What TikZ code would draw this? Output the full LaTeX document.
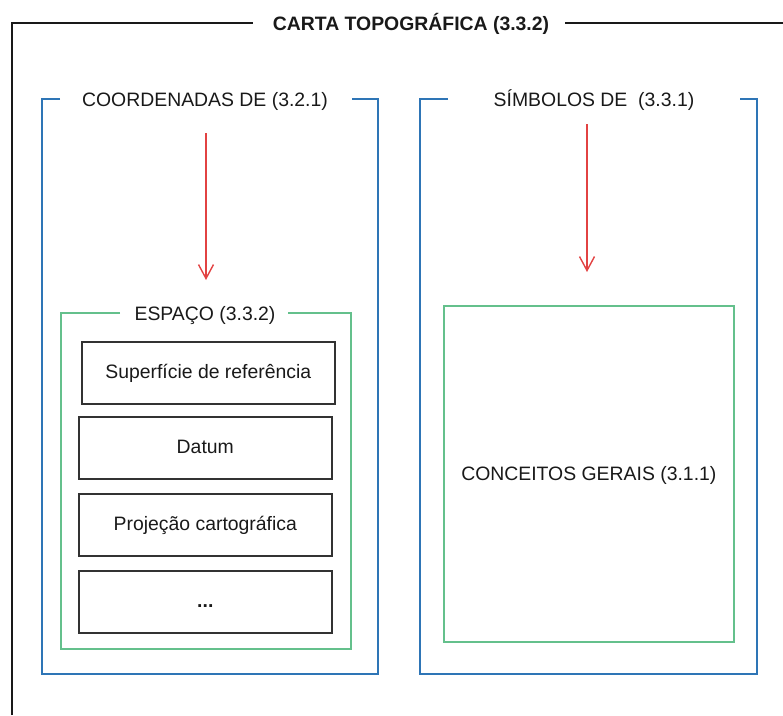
\documentclass[tikz,border=0pt]{standalone}
\usepackage{fontspec}
\setmainfont{Liberation Sans}
\usetikzlibrary{arrows.meta}

\definecolor{frameblue}{RGB}{46,117,182}
\definecolor{framegreen}{RGB}{100,192,140}
\definecolor{arrowred}{RGB}{226,66,66}
\definecolor{boxgray}{RGB}{50,50,50}
\definecolor{txt}{RGB}{25,25,25}

\begin{document}
\begin{tikzpicture}[x=1pt,y=-1pt,
  capslbl/.style={font=\fontsize{19.4}{23}\selectfont, text=txt, inner sep=0pt,
                  text height=14pt, text depth=0pt},
  itembox/.style={draw=boxgray, line width=1.6pt, inner sep=0pt, anchor=north west,
                  minimum width=253pt, minimum height=62pt,
                  font=\fontsize{19.4}{23}\selectfont, text=txt,
                  text height=14pt, text depth=2pt},
  outerframe/.style={draw=black!90, line width=2.2pt},
  blueframe/.style={draw=frameblue, line width=2.6pt},
  greenframe/.style={draw=framegreen, line width=1.7pt},
  flow/.style={draw=arrowred, line width=1.4pt,
               -{Straight Barb[length=14pt,width=15pt,line width=1.4pt]}}
]
\useasboundingbox (0,0) rectangle (783,715);

% outer frame, running off the right and bottom edges
\node[capslbl, font=\fontsize{19.4}{23}\selectfont\bfseries] (carta) at (411,23) {CARTA TOPOGRÁFICA (3.3.2)};
\draw[outerframe] (12,715) -- (12,23) -- (253,23);
\draw[outerframe] (565,23) -- (783,23);

% left blue frame
\node[capslbl] (coord) at (205,99) {COORDENADAS DE (3.2.1)};
\draw[blueframe] (60,99) -- (42,99) -- (42,674) -- (378,674) -- (378,99) -- (352,99);

% right blue frame
\node[capslbl] (simb) at (594,99) {SÍMBOLOS DE\ \ (3.3.1)};
\draw[blueframe] (448,99) -- (420,99) -- (420,674) -- (757,674) -- (757,99) -- (740,99);

% green frame holding the list of items
\node[capslbl] (espaco) at (205,313) {ESPAÇO (3.3.2)};
\draw[greenframe] (120,313) -- (61,313) -- (61,649) -- (351,649) -- (351,313) -- (288,313);

% items
\node[itembox] (sup) at (81,341) {Superfície de referência};
\node[itembox] (datum) at (78,416) {Datum};
\node[itembox] (proj) at (78,493) {Projeção cartográfica};
\node[itembox] (etc) at (78,570) {\textbf{...}};

% green box with general concepts
\node[greenframe, anchor=north west, inner sep=0pt,
      minimum width=290pt, minimum height=336pt] (geral) at (443,305) {};
\node[capslbl] (conc) at (geral.center) {CONCEITOS GERAIS (3.1.1)};

% flow arrows
\coordinate (a1s) at (206,133);
\coordinate (a1e) at (206,280);
\coordinate (a2s) at (587,124);
\coordinate (a2e) at (587,272);
\draw[flow] (a1s) -- (a1e);
\draw[flow] (a2s) -- (a2e);
\end{tikzpicture}
\end{document}
